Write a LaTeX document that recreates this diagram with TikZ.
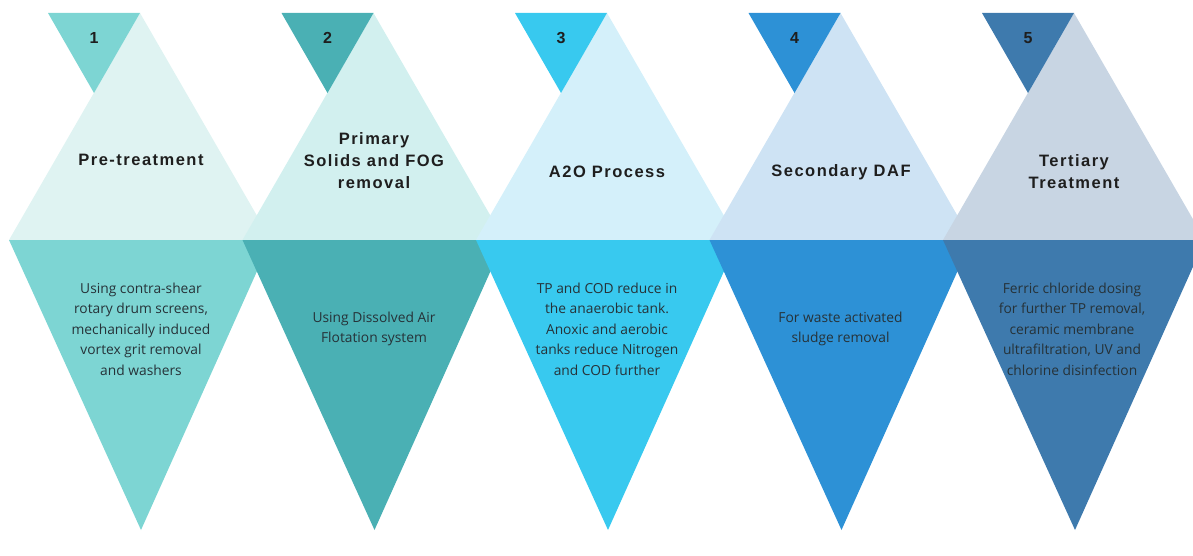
\documentclass[tikz,border=0pt]{standalone}
\usepackage{fontspec}
\setmainfont{Open Sans}
\newfontfamily\titlefont[LetterSpace=9]{Liberation Sans}
\newfontfamily\numfont{Liberation Sans}
\newfontfamily\descfont{Open Sans}
\definecolor{dA}{HTML}{7DD5D3}\definecolor{pA}{HTML}{DFF3F2}
\definecolor{dB}{HTML}{4AB0B4}\definecolor{pB}{HTML}{D2F0EF}
\definecolor{dC}{HTML}{38C9EF}\definecolor{pC}{HTML}{D4F0FA}
\definecolor{dD}{HTML}{2D91D6}\definecolor{pD}{HTML}{CEE3F4}
\definecolor{dE}{HTML}{3E7AAD}\definecolor{pE}{HTML}{C8D5E3}
\definecolor{titletext}{HTML}{1E1E1E}
\definecolor{desctext}{HTML}{263238}
\tikzset{
  titlelabel/.style={align=center,text=titletext,font=\titlefont\bfseries\fontsize{16.5}{22}\selectfont,inner sep=0pt},
  desclabel/.style={align=center,text=desctext,font=\descfont\fontsize{13.8}{20.5}\selectfont,inner sep=0pt},
  numlabel/.style={text=titletext,font=\numfont\bfseries\fontsize{16}{18}\selectfont,inner sep=0pt}
}
\begin{document}
\begin{tikzpicture}[x=1pt,y=-1pt]
\useasboundingbox (0,0) rectangle (1193,556);
% pale upward triangles
\foreach \c/\col in {140/pA,373.5/pB,607/pC,840.5/pD,1074/pE}{
  \fill[\col] (\c-131,240) -- (\c,13) -- (\c+131,240) -- cycle;
}
% small number triangles
\foreach \c/\col in {140/dA,373.5/dB,607/dC,840.5/dD,1074/dE}{
  \fill[\col] (\c-92,13) -- (\c,13) -- (\c-46,93) -- cycle;
}
% dark downward triangles
\foreach \c/\col in {140/dA,373.5/dB,607/dC,840.5/dD,1074/dE}{
  \fill[\col] (\c-131,240) -- (\c+131,240) -- (\c+1,530) -- cycle;
}
% numbers
\node[numlabel] (n1) at (94,38) {1};
\node[numlabel] (n2) at (327.5,38) {2};
\node[numlabel] (n3) at (561,38) {3};
\node[numlabel] (n4) at (794.5,38) {4};
\node[numlabel] (n5) at (1028,38) {5};
% titles
\node[titlelabel] (t1) at (141,160) {Pre-treatment};
\node[titlelabel] (t2) at (374,161) {Primary\\Solids and FOG\\removal};
\node[titlelabel] (t3) at (607,172) {A2O Process};
\node[titlelabel] (t4) at (841,172) {Secondary DAF};
\node[titlelabel] (t5) at (1074,172) {Tertiary\\Treatment};
% descriptions
\node[desclabel] (d1) at (141,329) {Using contra-shear\\rotary drum screens,\\mechanically induced\\vortex grit removal\\and washers};
\node[desclabel] (d2) at (374,329) {Using Dissolved Air\\Flotation system};
\node[desclabel] (d3) at (607,329) {TP and COD reduce in\\the anaerobic tank.\\Anoxic and aerobic\\tanks reduce Nitrogen\\and COD further};
\node[desclabel] (d4) at (840.5,329) {For waste activated\\sludge removal};
\node[desclabel] (d5) at (1072,329) {Ferric chloride dosing\\for further TP removal,\\ceramic membrane\\ultrafiltration, UV and\\chlorine disinfection};
\end{tikzpicture}
\end{document}
